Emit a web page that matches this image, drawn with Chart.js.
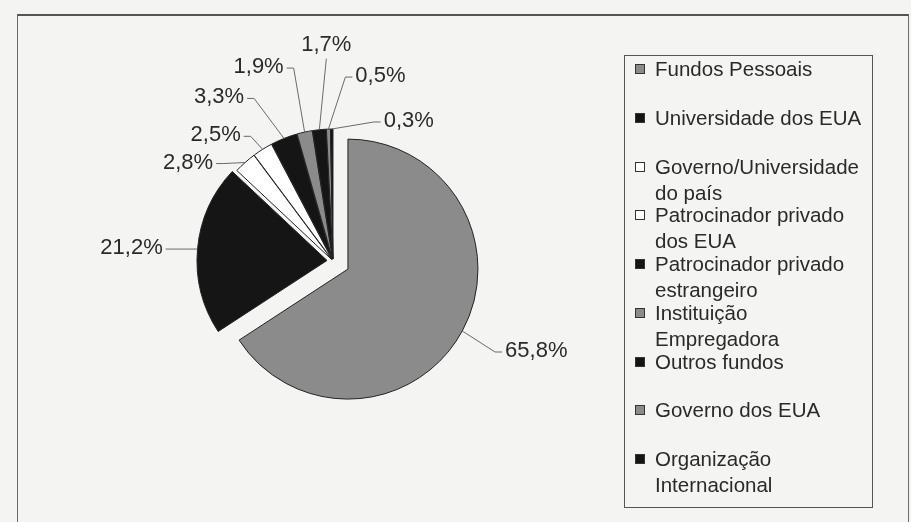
<!DOCTYPE html>
<html>
<head>
<meta charset="utf-8">
<script src="https://cdn.jsdelivr.net/npm/chart.js@4"></script>
<style>
  html, body { margin: 0; padding: 0; }
  body { width: 911px; height: 522px; background: #f4f4f2; position: relative; overflow: hidden;
         font-family: "Liberation Sans", Arial, sans-serif; color: #2a2a2a; }
  #frame { position: absolute; left: 17px; top: 14px; width: 890px; height: 520px;
           border: 1px solid #6a6a6a; border-top: 2px solid #555; }
  #chart { position: absolute; left: 0; top: 0; }
  #legend { position: absolute; left: 624px; top: 55px; width: 247px; height: 451px;
            border: 1px solid #555; }
  .item { position: absolute; left: 30px; width: 215px; font-size: 20.5px; line-height: 26px; }
  .box { position: absolute; left: -20px; top: 8px; width: 8px; height: 8px; border: 1px solid #333; }
</style>
</head>
<body>
<div id="frame"></div>
<canvas id="chart" width="911" height="522"></canvas>
<div id="legend"></div>
<script>
// fontes de financiamento
const categories = [
  'Fundos Pessoais',
  'Universidade dos EUA',
  'Governo/Universidade do país',
  'Patrocinador privado dos EUA',
  'Patrocinador privado estrangeiro',
  'Instituição Empregadora',
  'Outros fundos',
  'Governo dos EUA',
  'Organização Internacional'
];
const shares = [65.8, 21.2, 2.8, 2.5, 3.3, 1.9, 1.7, 0.5, 0.3];

// style
const sliceColors = ['#8b8b8b', '#151515', '#ffffff', '#ffffff', '#151515', '#8b8b8b', '#151515', '#8b8b8b', '#151515'];
const explode = [17, 6, 2, 2, 2, 2, 2, 2, 2];
// label centre relative to the slice's outer mid point
const labelShift = [[74, 20], [-66, -1], [-57, 0], [-47, -14], [-65, -41], [-46, -65], [7, -85], [52, -53], [77, -8]];

const fmt = v => v.toFixed(1).replace('.', ',') + '%';

const explodePie = {
  id: 'explodePie',
  beforeDatasetDraw(chart, args) {
    const ctx = chart.ctx;
    args.meta.data.forEach((arc, i) => {
      const mid = (arc.startAngle + arc.endAngle) / 2;
      ctx.save();
      ctx.translate(Math.cos(mid) * explode[i], Math.sin(mid) * explode[i]);
      arc.draw(ctx);
      ctx.restore();
    });
    return false;
  }
};

const pieLabels = {
  id: 'pieLabels',
  afterDatasetsDraw(chart) {
    const ctx = chart.ctx;
    const arcs = chart.getDatasetMeta(0).data;
    ctx.save();
    ctx.font = '22px "Liberation Sans", Arial, sans-serif';
    ctx.textAlign = 'center';
    ctx.textBaseline = 'middle';
    ctx.strokeStyle = '#6a6a6a';
    ctx.lineWidth = 1;
    arcs.forEach((arc, i) => {
      const mid = (arc.startAngle + arc.endAngle) / 2;
      const r = arc.outerRadius + explode[i];
      const ax = arc.x + Math.cos(mid) * r;
      const ay = arc.y + Math.sin(mid) * r;
      const tx = ax + labelShift[i][0];
      const ty = ay + labelShift[i][1];
      const text = fmt(shares[i]);
      const w = ctx.measureText(text).width;
      ctx.beginPath();
      if (Math.abs(labelShift[i][0]) < 20) {
        ctx.moveTo(tx, ty + 14);
        ctx.lineTo(ax, ay);
      } else {
        const side = labelShift[i][0] < 0 ? 1 : -1;
        const ex = tx + side * (w / 2 + 3);
        ctx.moveTo(ex, ty + 1);
        ctx.lineTo(ex + side * 7, ty + 1);
        ctx.lineTo(ax, ay);
      }
      ctx.stroke();
      ctx.fillStyle = '#2a2a2a';
      ctx.fillText(text, tx, ty);
    });
    ctx.restore();
  }
};

new Chart(document.getElementById('chart'), {
  type: 'pie',
  data: {
    labels: categories,
    datasets: [{
      data: shares,
      backgroundColor: sliceColors,
      borderColor: '#222',
      borderWidth: 1,
      hoverOffset: 0
    }]
  },
  options: {
    responsive: false,
    devicePixelRatio: 1,
    animation: false,
    events: [],
    layout: { padding: { left: 202.5, right: 447.5, top: 130.5, bottom: 130.5 } },
    plugins: {
      legend: { display: false },
      tooltip: { enabled: false }
    }
  },
  plugins: [explodePie, pieLabels]
});

// legend
const legend = document.getElementById('legend');
categories.forEach((name, i) => {
  const item = document.createElement('div');
  item.className = 'item';
  item.style.top = (i * 48.75) + 'px';
  item.textContent = name;
  const box = document.createElement('span');
  box.className = 'box';
  box.style.background = sliceColors[i];
  item.appendChild(box);
  legend.appendChild(item);
});
</script>
</body>
</html>
